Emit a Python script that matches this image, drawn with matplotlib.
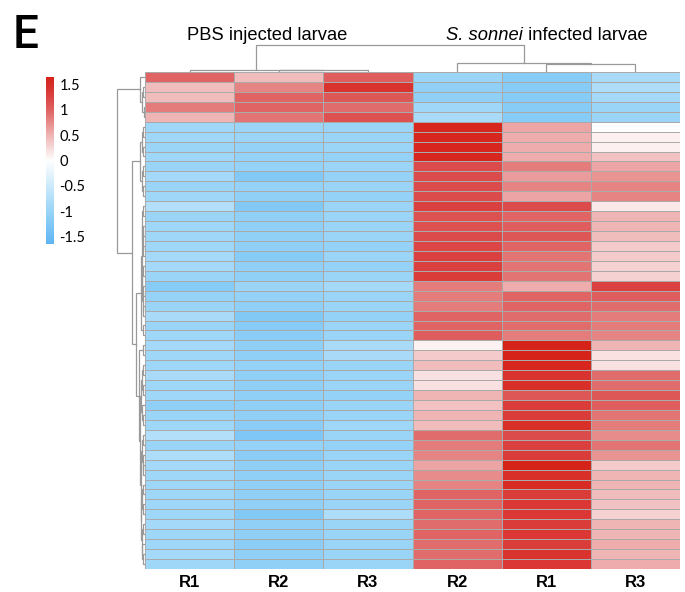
import matplotlib
matplotlib.use('Agg')
import matplotlib.pyplot as plt
import numpy as np
from matplotlib.colors import LinearSegmentedColormap

# ---------------- data ----------------
col_labels = ['R1', 'R2', 'R3', 'R2', 'R1', 'R3']
group_labels = ['PBS injected larvae', 'S. sonnei infected larvae']

pbs_r1 = [1.0, 0.45, 0.45, 0.85, 0.5,
          -0.95, -0.95, -1.0, -0.95, -1.0, -0.9, -1.0, -0.95, -0.75, -1.0,
          -0.95, -0.95, -0.95, -0.9, -0.9, -1.0, -1.2, -1.05, -1.0, -0.85,
          -1.0, -0.95, -0.9, -0.95, -0.95, -0.85, -0.95, -0.95, -1.1, -1.0,
          -0.95, -0.75, -1.0, -0.8, -0.9, -0.95, -0.95, -0.95, -0.95, -0.95,
          -0.9, -0.95, -0.95, -0.9, -0.95]
pbs_r2 = [0.45, 0.8, 1.0, 1.0, 0.9,
          -1.0, -1.0, -1.05, -1.05, -1.05, -1.25, -1.05, -1.1, -1.25, -1.1,
          -1.1, -1.1, -1.1, -1.2, -1.1, -1.1, -1.0, -1.05, -1.1, -1.25,
          -1.2, -1.15, -1.1, -1.1, -1.05, -1.1, -1.1, -1.1, -1.1, -1.1,
          -1.15, -1.3, -1.05, -1.15, -1.1, -1.1, -1.1, -1.1, -1.1, -1.25,
          -1.1, -1.1, -1.15, -1.1, -1.1]
pbs_r3 = [1.05, 1.45, 1.1, 0.95, 1.15,
          -1.0, -1.0, -1.0, -1.05, -1.0, -1.05, -1.0, -1.05, -1.0, -1.0,
          -1.0, -1.0, -1.05, -1.0, -1.05, -1.0, -0.9, -1.0, -1.0, -1.05,
          -1.0, -1.0, -0.85, -0.85, -1.0, -1.0, -1.0, -1.05, -1.0, -1.0,
          -0.95, -1.0, -1.05, -1.0, -1.0, -1.0, -1.0, -1.0, -1.0, -0.8,
          -1.0, -1.0, -1.0, -1.0, -1.0]
inf_r2 = [-1.0, -1.1, -1.1, -0.95, -0.85,
          1.6, 1.6, 1.6, 1.6, 1.2, 1.2, 1.2, 1.2, 1.3, 1.15,
          1.15, 1.2, 1.25, 1.3, 1.3, 1.35, 0.85, 0.85, 0.85, 1.0,
          1.0, 1.05, 0.08, 0.35, 0.45, 0.2, 0.2, 0.5, 0.4, 0.5,
          0.45, 0.95, 0.85, 0.8, 0.6, 0.75, 0.8, 1.0, 1.0, 1.0,
          0.95, 1.0, 0.95, 0.95, 1.0]
inf_r1 = [-1.2, -1.2, -1.2, -1.2, -1.2,
          0.6, 0.55, 0.55, 0.55, 0.85, 0.65, 0.8, 0.6, 1.2, 1.0,
          1.05, 1.1, 1.0, 0.9, 0.9, 0.9, 0.55, 1.0, 1.0, 0.95,
          0.95, 0.85, 1.65, 1.65, 1.6, 1.45, 1.5, 1.1, 1.35, 1.35,
          1.5, 1.2, 1.3, 1.35, 1.65, 1.5, 1.55, 1.35, 1.4, 1.4,
          1.35, 1.4, 1.35, 1.45, 1.4]
inf_r3 = [-0.85, -0.8, -0.9, -1.0, -1.0,
          0.0, 0.1, 0.1, 0.4, 0.6, 0.7, 0.8, 0.8, 0.15, 0.5,
          0.5, 0.45, 0.35, 0.35, 0.3, 0.3, 1.3, 1.05, 0.95, 0.85,
          0.85, 0.8, 0.5, 0.2, 0.2, 0.95, 0.95, 1.1, 1.05, 0.9,
          0.85, 0.75, 0.9, 0.7, 0.35, 0.5, 0.5, 0.45, 0.4, 0.3,
          0.5, 0.5, 0.55, 0.5, 0.55]

# column linkage (height, left, right); leaves are column indices
col_tree = (27, (2.5, 0, (2, 1, 2)), (9, 3, (8.5, 4, 5)))

# row linkage (height, left, right); leaves are row indices
top_cluster = (5, 0, (3, (2, 1, 2), (1.5, 3, 4)))
c1 = (5, (3, (2, 5, 6), (2.5, 7, 8)), (3.5, (2, 9, 10), (2.5, 11, 12)))
s13_24 = (3.5, (3, (2, 13, 14), (2.5, (2, 15, 16), (2, 17, 18))),
          (3, (2, 19, 20), (2.5, (2, 21, 22), (2, 23, 24))))
c2 = (4, s13_24, (2, 25, 26))
s29_35 = (4, (3, (2, 29, 30), (2, 31, 32)), (3, 33, (2, 34, 35)))
s36_49 = (4.5, (3.5, (2, 36, 37), (2.5, 38, (2, 39, 40))),
          (4, (3, (2, 41, 42), (2, 43, 44)),
           (3.5, (2, 45, 46), (3, 47, (2, 48, 49)))))
c3 = (6, (2, 27, 28), (5, s29_35, s36_49))
row_tree = (28, top_cluster, (13, c1, (9, c2, c3)))

vmin, vmax = -1.65, 1.65
cbar_ticks = [1.5, 1, 0.5, 0, -0.5, -1, -1.5]

# ---------------- figure ----------------
W, H = 685, 592
fig = plt.figure(figsize=(W / 100, H / 100), dpi=100)


def ax_px(x0, y0, x1, y1):
    return fig.add_axes([x0 / W, 1 - y1 / H, (x1 - x0) / W, (y1 - y0) / H])


def f(v):
    return (v - vmin) / (vmax - vmin)


cmap = LinearSegmentedColormap.from_list(
    'bluered', [(0, '#5fb6f4'), (f(-1.0), '#9ad5f8'), (0.5, '#ffffff'),
                (f(0.5), '#efb4b4'), (f(1.0), '#e06464'), (f(1.3), '#db4040'),
                (1, '#d6231a')])

data = np.array([pbs_r1, pbs_r2, pbs_r3, inf_r2, inf_r1, inf_r3]).T
nrow, ncol = data.shape

hax = ax_px(145, 72, 680, 569)
hax.pcolormesh(data, cmap=cmap, vmin=vmin, vmax=vmax,
               edgecolors='#aaaaaa', linewidth=0.6)
hax.set_xlim(0, ncol)
hax.set_ylim(nrow, 0)
hax.set_xticks(np.arange(ncol) + 0.5)
hax.set_xticklabels(col_labels, fontsize=12, fontweight='bold',
                    family='Liberation Sans')
hax.tick_params(length=0, pad=4)
hax.set_yticks([])
for s in hax.spines.values():
    s.set_visible(False)

LC = '#999999'


def draw_tree(ax, node, orient):
    if isinstance(node, int):
        return node + 0.5, 0
    h, l, r = node
    pl, hl = draw_tree(ax, l, orient)
    pr, hr = draw_tree(ax, r, orient)
    if orient == 'top':
        ax.plot([pl, pl, pr, pr], [hl, h, h, hr], color=LC, lw=0.9,
                solid_joinstyle='miter')
    else:
        ax.plot([hl, h, h, hr], [pl, pl, pr, pr], color=LC, lw=0.9,
                solid_joinstyle='miter')
    return (pl + pr) / 2, h


cax_d = ax_px(145, 40, 680, 72)
draw_tree(cax_d, col_tree, 'top')
cax_d.set_xlim(0, ncol)
cax_d.set_ylim(0, 32)
cax_d.axis('off')

rax_d = ax_px(50, 72, 145, 569)
draw_tree(rax_d, row_tree, 'left')
rax_d.set_xlim(95, 0)
rax_d.set_ylim(nrow, 0)
rax_d.axis('off')

# colour bar
cb = ax_px(46, 77, 54, 244)
grad = np.linspace(vmax, vmin, 300)[:, None]
cb.imshow(grad, aspect='auto', cmap=cmap, vmin=vmin, vmax=vmax,
          extent=[0, 1, vmin, vmax])
cb.set_xticks([])
cb.yaxis.tick_right()
cb.set_yticks(cbar_ticks)
cb.set_yticklabels([f'{t:g}' for t in cbar_ticks], fontsize=10.5, family='Lato')
cb.tick_params(length=0, pad=4)
for s in cb.spines.values():
    s.set_visible(False)

# titles
fs = 13.2
fig.text(187 / W, 1 - 36 / H, group_labels[0], fontsize=fs,
         family='Liberation Sans', va='center', ha='left')
sp, rest = group_labels[1].split(' infected')
t1 = fig.text(446 / W, 1 - 36 / H, sp, fontsize=fs, style='italic',
              family='Liberation Sans', va='center', ha='left')
fig.canvas.draw()
bb = t1.get_window_extent()
fig.text(bb.x1 / W, 1 - 36 / H, ' infected' + rest, fontsize=fs,
         family='Liberation Sans', va='center', ha='left')

fig.text(13 / W, 1 - 48 / H, 'E', fontsize=33, fontweight='medium',
         family=['Roboto', 'DejaVu Sans'], va='baseline', ha='left')

fig.savefig('out.png', dpi=100)
